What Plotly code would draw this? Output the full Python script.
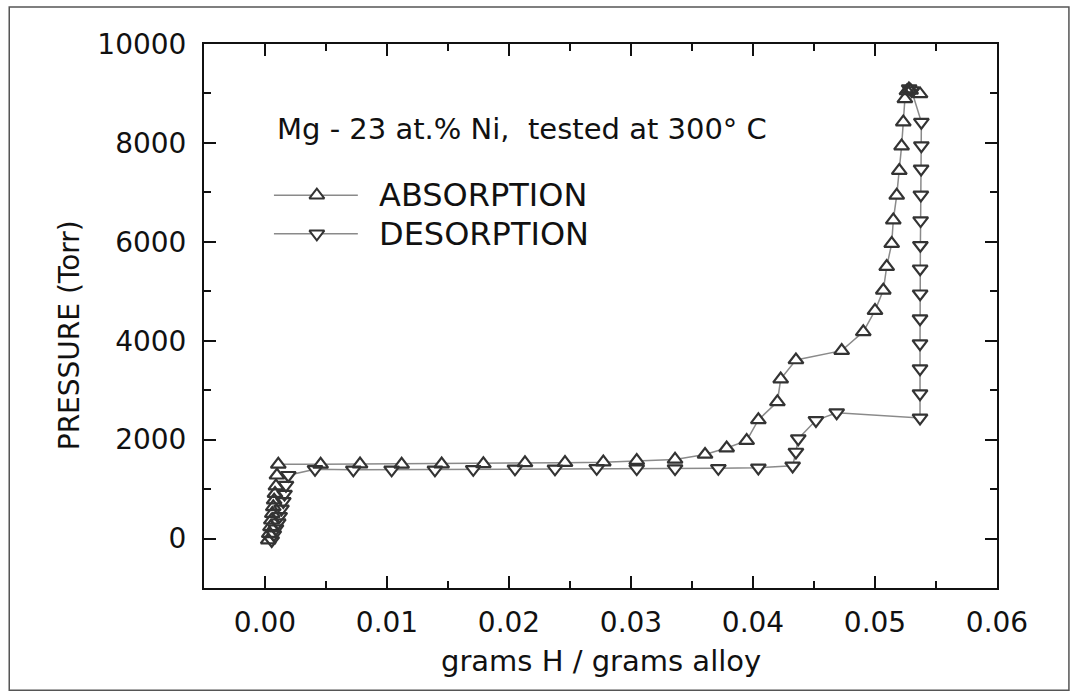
import plotly.graph_objects as go

# ---- data ----
abs_x = [0.00027, 0.00035, 0.00045, 0.00052, 0.00060, 0.00068, 0.00075, 0.00082, 0.00090, 0.00098, 0.00109,
         0.00456, 0.00779, 0.01120, 0.01448, 0.01790, 0.02131, 0.02459, 0.02773, 0.03047, 0.03361,
         0.03607, 0.03784, 0.03948, 0.04044, 0.04200, 0.04227, 0.04352, 0.04727, 0.04904, 0.05000,
         0.05068, 0.05096, 0.05137, 0.05150, 0.05178, 0.05199, 0.05218, 0.05232, 0.05245, 0.05262,
         0.05278, 0.05292, 0.05369]
abs_y = [-30, 100, 235, 370, 505, 640, 775, 910, 1060, 1280, 1500,
         1500, 1505, 1500, 1505, 1510, 1530, 1535, 1545, 1575, 1600,
         1700, 1830, 1980, 2400, 2765, 3225, 3610, 3800, 4180, 4610,
         5020, 5500, 5965, 6440, 6940, 7440, 7935, 8420, 8890, 9050,
         9090, 9060, 8990]

des_x = [0.05280, 0.05300, 0.05380, 0.05380, 0.05378, 0.05376, 0.05374, 0.05372, 0.05370, 0.05370,
         0.05369, 0.05369, 0.05369, 0.05369, 0.05369, 0.04686, 0.04516, 0.04371, 0.04352, 0.04325,
         0.04044, 0.03716, 0.03361, 0.03047, 0.02719, 0.02377, 0.02049, 0.01707, 0.01393, 0.01038,
         0.00724, 0.00410, 0.00191, 0.00172, 0.00160, 0.00150, 0.00135, 0.00120, 0.00108, 0.00090,
         0.00072, 0.00055]
des_y = [9100, 9060, 8420, 7945, 7475, 6950, 6430, 5930, 5455, 4950,
         4445, 3940, 3435, 2930, 2440, 2545, 2390, 2020, 1750, 1470,
         1430, 1420, 1415, 1415, 1420, 1410, 1410, 1400, 1390, 1390,
         1390, 1400, 1280, 1080, 900, 750, 600, 450, 320, 200,
         80, -40]

x_ticks = [0.00, 0.01, 0.02, 0.03, 0.04, 0.05, 0.06]
x_tick_text = ["0.00", "0.01", "0.02", "0.03", "0.04", "0.05", "0.06"]
y_ticks = [0, 2000, 4000, 6000, 8000, 10000]
y_tick_text = ["0", "2000", "4000", "6000", "8000", "10000"]

series_names = ["ABSORPTION", "DESORPTION"]
title_text = "Mg - 23 at.% Ni,  tested at 300° C"

# ---- style ----
FONT = "DejaVu Sans"
INK = "#111111"
LINE_GRAY = "#8a8a8a"
MSIZE = 13

fig = go.Figure()

series = [(abs_x, abs_y, "triangle-up"), (des_x, des_y, "triangle-down")]

# connecting lines
for xs, ys, sym in series:
    fig.add_trace(go.Scatter(x=xs, y=ys, mode="lines",
                             line=dict(color=LINE_GRAY, width=1.5),
                             showlegend=False, hoverinfo="skip"))
# white fill of markers (hides line inside symbol)
for xs, ys, sym in series:
    fig.add_trace(go.Scatter(x=xs, y=ys, mode="markers",
                             marker=dict(symbol=sym, size=MSIZE, color="white",
                                         line=dict(width=0)),
                             showlegend=False, hoverinfo="skip"))
# open outlines
for xs, ys, sym in series:
    fig.add_trace(go.Scatter(x=xs, y=ys, mode="markers",
                             marker=dict(symbol=sym + "-open", size=MSIZE, color="#333333",
                                         line=dict(width=2.2, color="#333333")),
                             showlegend=False))

# legend samples drawn on an overlay axis in plot-fraction units
leg_rows = [0.722, 0.651]
for (xs, ys, sym), ly, name in zip(series, leg_rows, series_names):
    fig.add_trace(go.Scatter(x=[0.0882, 0.194], y=[ly, ly], mode="lines",
                             line=dict(color=LINE_GRAY, width=1.5),
                             xaxis="x2", yaxis="y2", showlegend=False, hoverinfo="skip"))
    fig.add_trace(go.Scatter(x=[0.1423], y=[ly], mode="markers",
                             marker=dict(symbol=sym, size=MSIZE, color="white",
                                         line=dict(width=2, color="#333333")),
                             xaxis="x2", yaxis="y2", showlegend=False, hoverinfo="skip"))

annotations = [
    dict(text=title_text, x=0.0894, y=0.8435, xref="paper", yref="paper",
         xanchor="left", yanchor="middle", showarrow=False,
         font=dict(family=FONT, size=29, color=INK)),
    dict(text="PRESSURE (Torr)", x=-0.17, y=0.465, xref="paper", yref="paper",
         xanchor="center", yanchor="middle", textangle=-90, showarrow=False,
         font=dict(family=FONT, size=28, color=INK)),
    dict(text="grams H / grams alloy", x=0.5, y=-0.1344, xref="paper", yref="paper",
         xanchor="center", yanchor="middle", showarrow=False,
         font=dict(family=FONT, size=29, color=INK)),
]
for ly, name in zip(leg_rows, series_names):
    annotations.append(dict(text=name, x=0.218, y=ly, xref="paper", yref="paper",
                            xanchor="left", yanchor="middle", showarrow=False,
                            font=dict(family=FONT, size=32, color=INK)))

axis_common = dict(showline=True, linewidth=2, linecolor=INK, mirror="allticks",
                   ticks="inside", ticklen=12, tickwidth=2, tickcolor=INK,
                   showgrid=False, zeroline=False,
                   tickfont=dict(family=FONT, size=28, color=INK))

fig.update_layout(
    width=1077, height=698,
    margin=dict(l=204, r=80, t=44, b=110),
    paper_bgcolor="white", plot_bgcolor="white",
    showlegend=False,
    xaxis=dict(range=[-0.005, 0.06], tickvals=x_ticks, ticktext=x_tick_text,
               minor=dict(dtick=0.005, tick0=0, ticks="inside", ticklen=7,
                          tickwidth=2, tickcolor=INK),
               ticklabelstandoff=8, **axis_common),
    yaxis=dict(range=[-1000, 10000], tickvals=y_ticks, ticktext=y_tick_text,
               minor=dict(dtick=1000, tick0=0, ticks="inside", ticklen=7,
                          tickwidth=2, tickcolor=INK),
               ticklabelstandoff=10, **axis_common),
    xaxis2=dict(overlaying="x", anchor="y2", range=[0, 1], visible=False),
    yaxis2=dict(overlaying="y", anchor="x2", range=[0, 1], visible=False),
    annotations=annotations,
    shapes=[dict(type="rect", xref="paper", yref="paper",
                 x0=-0.2456, x1=1.0907, y0=-0.1878, y1=1.0681,
                 line=dict(color="#555555", width=1.5), layer="below")],
)

fig.write_html("out.html")
